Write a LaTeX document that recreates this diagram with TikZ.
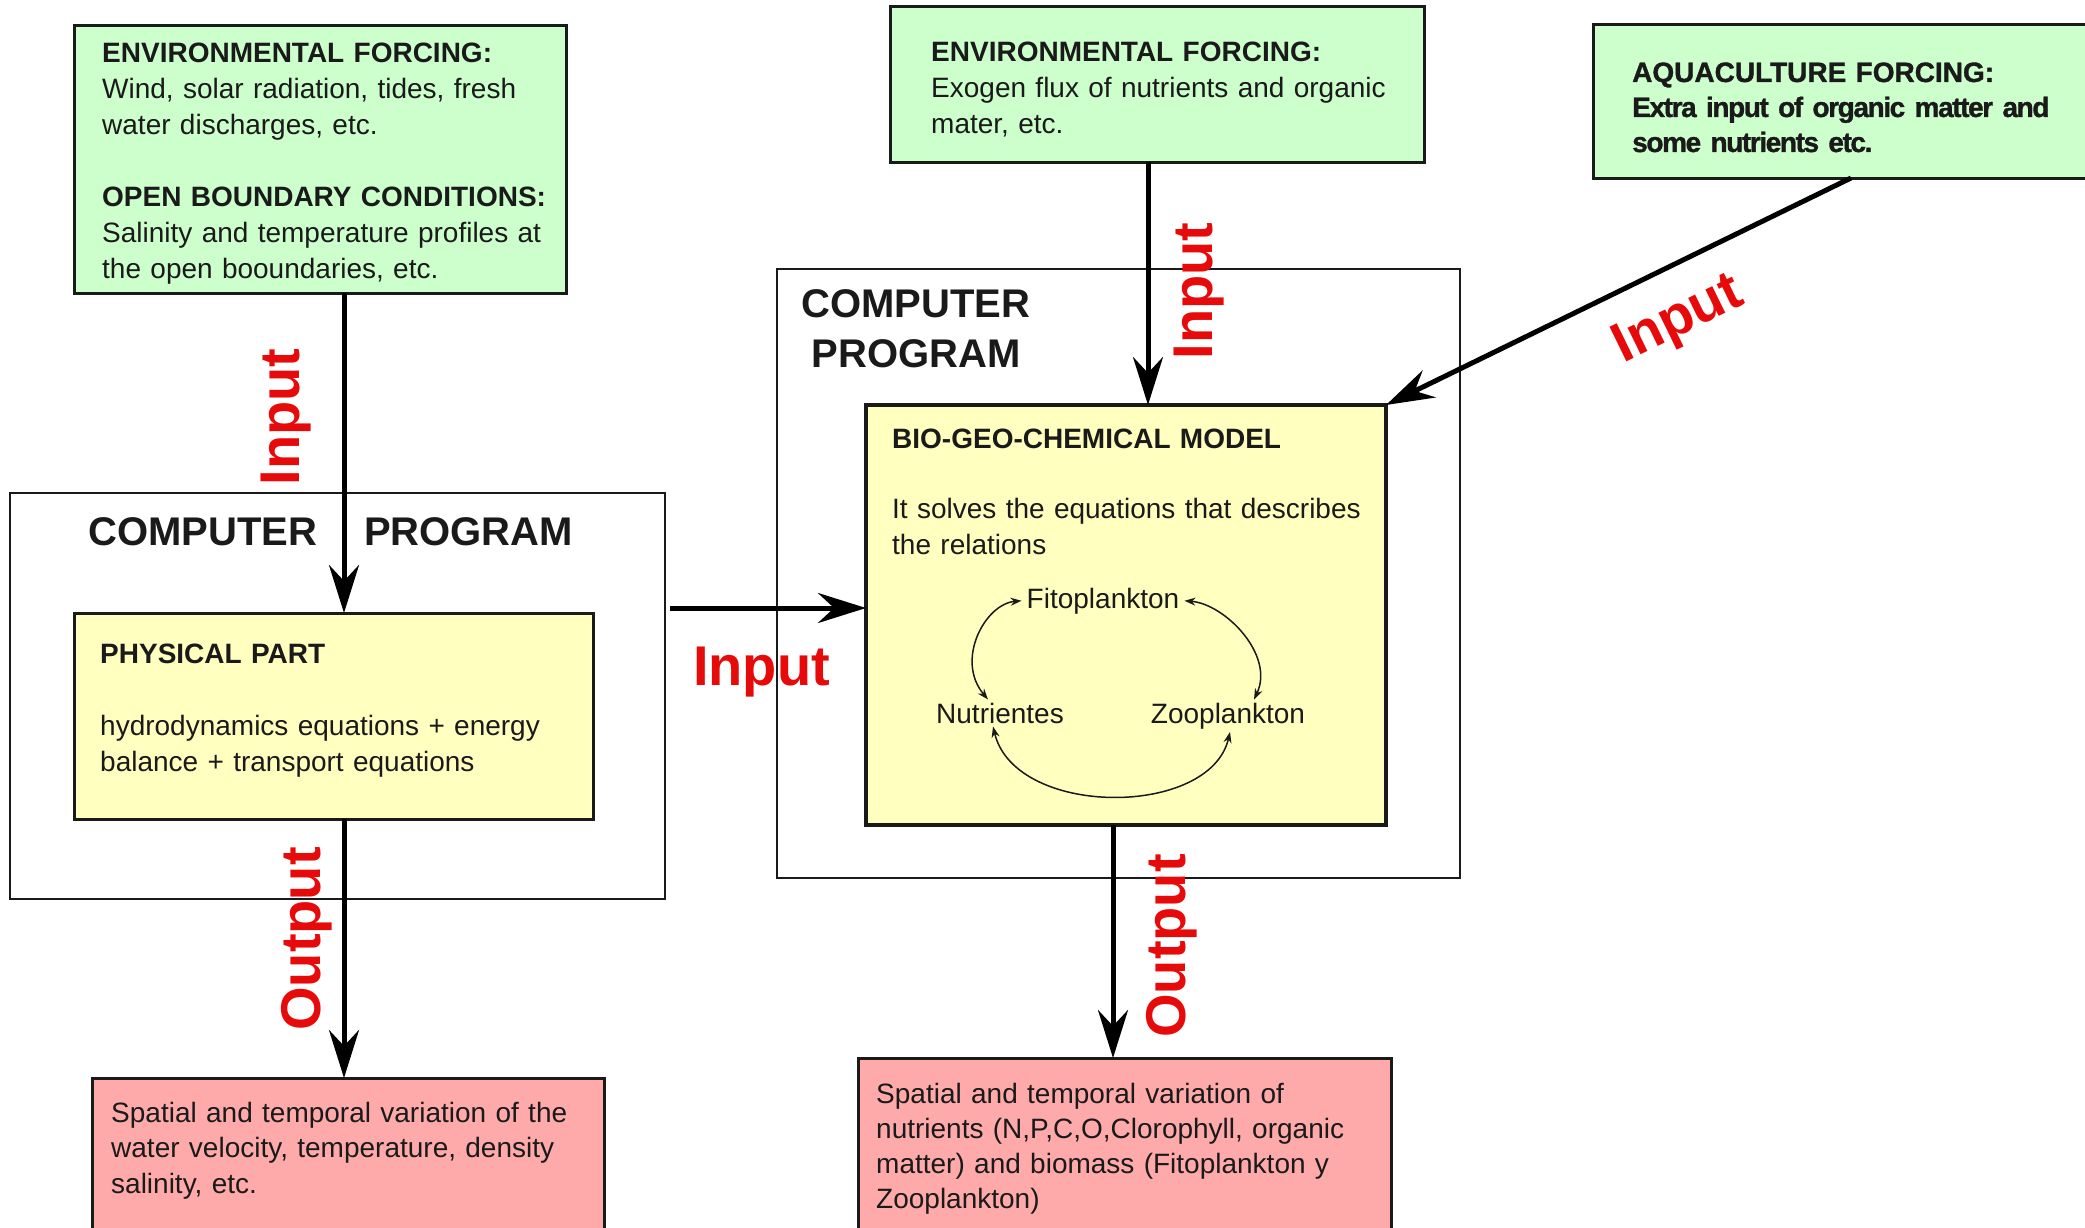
\documentclass[tikz,border=0pt]{standalone}
\usepackage{fontspec}
\setmainfont{Liberation Sans}
\newfontfamily\heavyfont[FakeBold=1.2]{Liberation Sans}
\newfontfamily\heavytight[FakeBold=1.2,LetterSpace=-5]{Liberation Sans}
\usetikzlibrary{arrows.meta}

\definecolor{boxgreen}{HTML}{CCFFCC}
\definecolor{boxyellow}{HTML}{FFFFC0}
\definecolor{boxpink}{HTML}{FFAAAA}
\definecolor{labelred}{HTML}{E60A0A}
\definecolor{inkdark}{HTML}{1A1A1A}

\begin{document}
\begin{tikzpicture}[x=1pt,y=-1pt,
  panel/.style={rectangle, anchor=north west, inner sep=0pt, outer sep=0pt, draw=inkdark},
  cpbox/.style={panel, fill=white, line width=2.5pt},
  greenbox/.style={panel, fill=boxgreen, line width=3pt},
  yellowbox/.style={panel, fill=boxyellow, line width=3pt},
  pinkbox/.style={panel, fill=boxpink, line width=3pt},
  txt/.style={anchor=base west, inner sep=0pt, text width=600pt, align=left,
    text=inkdark, font=\fontsize{28}{36}\selectfont},
  cptitle/.style={inner sep=0pt, text=inkdark, font=\fontsize{40}{50}\selectfont\bfseries},
  species/.style={anchor=base, inner sep=3pt, text=inkdark, font=\fontsize{28}{34}\selectfont},
  redlabel/.style={inner sep=0pt, text=labelred, font=\fontsize{56}{60}\selectfont\bfseries},
  bigarrow/.style={draw=black, line width=5pt, -{Stealth[length=48pt,width=30pt,inset=16pt]}},
  cycarrow/.style={draw=inkdark, line width=1.5pt,
    {Stealth[length=11pt,width=8pt]}-{Stealth[length=11pt,width=8pt]}}
]
\useasboundingbox (0,0) rectangle (2085,1228);
\fill[white] (0,0) rectangle (2085,1228);
\clip (0,0) rectangle (2085,1228);

% program frames
\node[cpbox, minimum width=655pt, minimum height=406pt] (cp1) at (10,493) {};
\node[cpbox, minimum width=683pt, minimum height=609pt] (cp2) at (777,269) {};

% forcing boxes
\node[greenbox, minimum width=492pt, minimum height=267pt] (env1) at (74,26) {};
\node[greenbox, minimum width=534pt, minimum height=155pt] (env2) at (890,7) {};
\node[greenbox, minimum width=520pt, minimum height=153pt] (aqua) at (1593,25) {};

% model boxes
\node[yellowbox, minimum width=519pt, minimum height=206pt] (phys) at (74,613) {};
\node[yellowbox, line width=4.5pt, minimum width=520pt, minimum height=420pt] (bio) at (866,405) {};

% result boxes
\node[pinkbox, minimum width=512pt, minimum height=190pt] (out1) at (92,1078) {};
\node[pinkbox, minimum width=533pt, minimum height=210pt] (out2) at (858,1058) {};

% box texts
\node[txt] (env1txt) at (102,63) {{\bfseries ENVIRONMENTAL FORCING:}\\
  Wind, solar radiation, tides, fresh\\
  water discharges, etc.\\[36pt]
  {\bfseries OPEN BOUNDARY CONDITIONS:}\\
  Salinity and temperature profiles at\\
  the open booundaries, etc.};
\node[txt] (env2txt) at (931,62) {{\bfseries ENVIRONMENTAL FORCING:}\\
  Exogen flux of nutrients and organic\\
  mater, etc.};
\node[txt, font=\fontsize{28}{35}\selectfont] (aquatxt) at (1632,82) {{\heavyfont\bfseries AQUACULTURE FORCING:}\\
  {\heavytight\bfseries Extra input of organic matter and}\\
  {\heavytight\bfseries some nutrients etc.}};

\node[cptitle, anchor=base west] (cp1title) at (88,545) {COMPUTER\hspace{47pt}PROGRAM};
\node[cptitle, anchor=base, text width=260pt, align=center] (cp2title) at (916,317) {COMPUTER\\PROGRAM};

\node[txt] (phystxt) at (100,663) {{\bfseries PHYSICAL PART}\\[36pt]
  hydrodynamics equations + energy\\
  balance + transport equations};
\node[txt] (biotxt) at (892,448) {{\bfseries BIO-GEO-CHEMICAL MODEL}\\[34pt]
  It solves the equations that describes\\
  the relations};

\node[species] (fito) at (1103,608) {Fitoplankton};
\node[species] (nutr) at (1000,723) {Nutrientes};
\node[species] (zoo) at (1228,723) {Zooplankton};

\node[txt, font=\fontsize{28}{35.5}\selectfont] (out1txt) at (111,1122) {Spatial and temporal variation of the\\
  water velocity, temperature, density\\
  salinity, etc.};
\node[txt, font=\fontsize{28}{35}\selectfont] (out2txt) at (876,1103) {Spatial and temporal variation of\\
  nutrients (N,P,C,O,Clorophyll, organic\\
  matter) and biomass (Fitoplankton y\\
  Zooplankton)};

% nutrient cycle
\draw[cycarrow] ([xshift=-2pt]fito.west) .. controls (985,604) and (955,660) .. ([xshift=-12pt]nutr.north);
\draw[cycarrow] ([xshift=2pt]fito.east) .. controls (1225,604) and (1275,655) .. ([xshift=26pt]zoo.north);
\draw[cycarrow] ([xshift=-7pt]nutr.south) .. controls (1015,818) and (1210,818) .. ([xshift=2pt]zoo.south);

% data flow
\coordinate (hstart) at (670,608);
\draw[bigarrow] (env1.south -| 344,0) -- (phys.north -| 344,0);
\draw[bigarrow] (phys.south -| 344,0) -- (out1.north -| 344,0);
\draw[bigarrow] (env2.south -| 1148,0) -- (bio.north -| 1148,0);
\draw[bigarrow] (bio.south -| 1113,0) -- (out2.north -| 1113,0);
\draw[bigarrow] (aqua.south -| 1851,0) -- (bio.north east);
\draw[bigarrow] (hstart) -- (bio.west |- hstart);

% flow labels
\node[redlabel, rotate=90] (inL) at (286,417) {Input};
\node[redlabel, rotate=90] (inM) at (1199,291) {Input};
\node[redlabel, rotate=26] (inD) at (1679,321) {Input};
\node[redlabel, anchor=base west] (inH) at (693,685) {Input};
\node[redlabel, rotate=90] (outL) at (307,939) {Output};
\node[redlabel, rotate=90] (outR) at (1172,946) {Output};
\end{tikzpicture}
\end{document}
